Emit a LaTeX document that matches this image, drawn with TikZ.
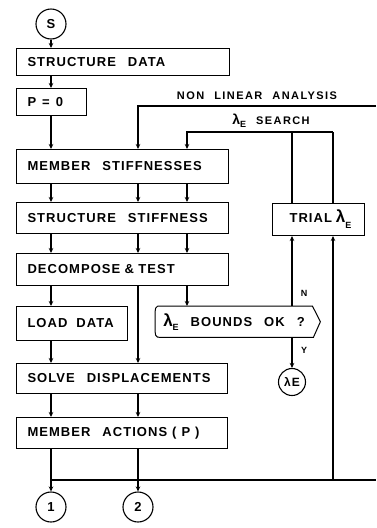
\documentclass[tikz,border=0pt]{standalone}
\usepackage{fontspec}
\setmainfont{Liberation Sans}[LetterSpace=8]
\newfontfamily\labfam{Liberation Sans}[LetterSpace=13]
\usetikzlibrary{arrows.meta}
\newcommand\boxfont{\bfseries\fontsize{13}{15}\selectfont}
\newcommand\smallfont{\labfam\bfseries\fontsize{11}{13}\selectfont}
\newcommand\tinyfont{\bfseries\fontsize{9}{11}\selectfont}
\newcommand\biglam{{\fontsize{17}{17}\selectfont λ}}
\newcommand\gap{\hspace{12pt}}
\newcommand\lgap{\hspace{10pt}}
\begin{document}
\begin{tikzpicture}[x=1pt,y=-1pt,
  ln/.style={line width=1pt},
  con/.style={line width=1.1pt},
  arr/.style={line width=1.1pt,-{Stealth[length=5pt,width=4.5pt]}},
  box/.style={draw,line width=1pt,anchor=north west,inner xsep=11pt,inner ysep=0pt,align=left,font=\boxfont},
  circ/.style={draw,circle,line width=1.1pt,minimum size=30pt,inner sep=0pt,font=\boxfont},
  lbl/.style={inner sep=0pt,font=\smallfont}]
\useasboundingbox (0,0) rectangle (376,528);

% main column boxes
\node[circ] (s) at (51,24) {S};
\node[box,text width=191pt,minimum height=27pt] (sd) at (16,48) {STRUCTURE\gap DATA};
\node[box,text width=48pt,minimum height=27pt] (p0) at (16,88) {P\hspace{6pt}=\hspace{6pt}0};
\node[box,text width=190pt,minimum height=34pt] (ms) at (16,149) {MEMBER\gap STIFFNESSES};
\node[box,text width=190pt,minimum height=31pt] (ss) at (16,202) {STRUCTURE\gap STIFFNESS};
\node[box,text width=190pt,minimum height=32pt] (dt) at (16,253) {DECOMPOSE \& TEST};
\node[box,text width=89pt,minimum height=34pt] (ld) at (16,306) {\mbox{LOAD\hspace{9pt}DATA}};
\node[box,text width=189pt,minimum height=30pt] (sol) at (16,363) {SOLVE\gap DISPLACEMENTS};
\node[box,text width=189pt,minimum height=31pt] (ma) at (16,417) {MEMBER\gap ACTIONS\hspace{5pt}(\hspace{5pt}P\hspace{5pt})};
\node[circ] (c1) at (51,507) {1};
\node[circ] (c2) at (138,507) {2};

% right side
\node[box,inner xsep=0pt,minimum width=92pt,minimum height=32pt,align=center] (trial) at (272,203)
  {\hspace{4pt}TRIAL\hspace{4pt}\biglam\raisebox{-6pt}{\tinyfont E}};
\node[anchor=north west,inner sep=0pt,minimum width=165pt,minimum height=31pt] (dec) at (155,306) {};
\node[inner sep=0pt,font=\boxfont] (dectext) at (234,322) {\biglam\raisebox{-4pt}{\tinyfont E}\gap BOUNDS\gap OK\hspace{12pt}?};
\draw[ln] ([xshift=6pt]dec.north west) -- ([xshift=-8pt]dec.north east) -- (dec.east)
  -- ([xshift=-7pt]dec.south east) -- ([xshift=6pt]dec.south west)
  .. controls ([xshift=0pt]dec.south west) .. (dec.west)
  .. controls ([xshift=0pt]dec.north west) .. ([xshift=6pt]dec.north west) -- cycle;
\node[circ,minimum size=27pt,font=\bfseries\fontsize{12}{12}\selectfont] (lam) at (292,382) {λE};

% labels
\node[lbl] (nla) at (257,96) {NON\lgap LINEAR\lgap ANALYSIS};
\node[lbl] (srch) at (271,121) {{\fontsize{14}{14}\selectfont λ}\raisebox{-3pt}{\tinyfont E}\lgap SEARCH};
\node[lbl,font=\tinyfont] (nl) at (304,293) {N};
\node[lbl,font=\tinyfont] (yl) at (304,350) {Y};

% coordinates
\coordinate (k2) at (138,106);
\coordinate (nlaR) at (376,106);
\coordinate (k3) at (187,132);
\coordinate (t1) at (292,132);
\coordinate (t2) at (333,132);
\coordinate (b1) at (51,480);
\coordinate (b2) at (138,480);
\coordinate (b3) at (333,480);
\coordinate (bR) at (376,480);

% column 1
\draw[arr] (s.south) -- (s.south |- sd.north);
\draw[arr] (sd.south -| s) -- (p0.north -| s);
\draw[arr] (p0.south -| s) -- (ms.north -| s);
\draw[arr] (ms.south -| s) -- (ss.north -| s);
\draw[arr] (ss.south -| s) -- (dt.north -| s);
\draw[arr] (dt.south -| s) -- (ld.north -| s);
\draw[arr] (ld.south -| s) -- (sol.north -| s);
\draw[arr] (sol.south -| s) -- (ma.north -| s);
\draw[con] (ma.south -| s) -- (b1) -- (bR);
\draw[arr] (b1) -- (c1.north);

% column 2
\draw[arr] (nlaR) -- (k2) -- (k2 |- ms.north);
\draw[arr] (ms.south -| k2) -- (ss.north -| k2);
\draw[arr] (ss.south -| k2) -- (dt.north -| k2);
\draw[arr] (dt.south -| k2) -- (sol.north -| k2);
\draw[arr] (sol.south -| k2) -- (ma.north -| k2);
\draw[con] (ma.south -| k2) -- (b2);
\draw[arr] (b2) -- (c2.north);

% column 3
\draw[arr] (t2) -- (k3) -- (k3 |- ms.north);
\draw[arr] (ms.south -| k3) -- (ss.north -| k3);
\draw[arr] (ss.south -| k3) -- (dt.north -| k3);
\draw[arr] (dt.south -| k3) -- (dec.north -| k3);

% trial loop
\draw[con] (trial.north -| t1) -- (t1);
\draw[con] (trial.north -| t2) -- (t2);
\draw[arr] (dec.north -| t1) -- (trial.south -| t1);
\draw[arr] (b3) -- (trial.south -| b3);
\draw[arr] (dec.south -| t1) -- (lam.north);
\end{tikzpicture}
\end{document}
